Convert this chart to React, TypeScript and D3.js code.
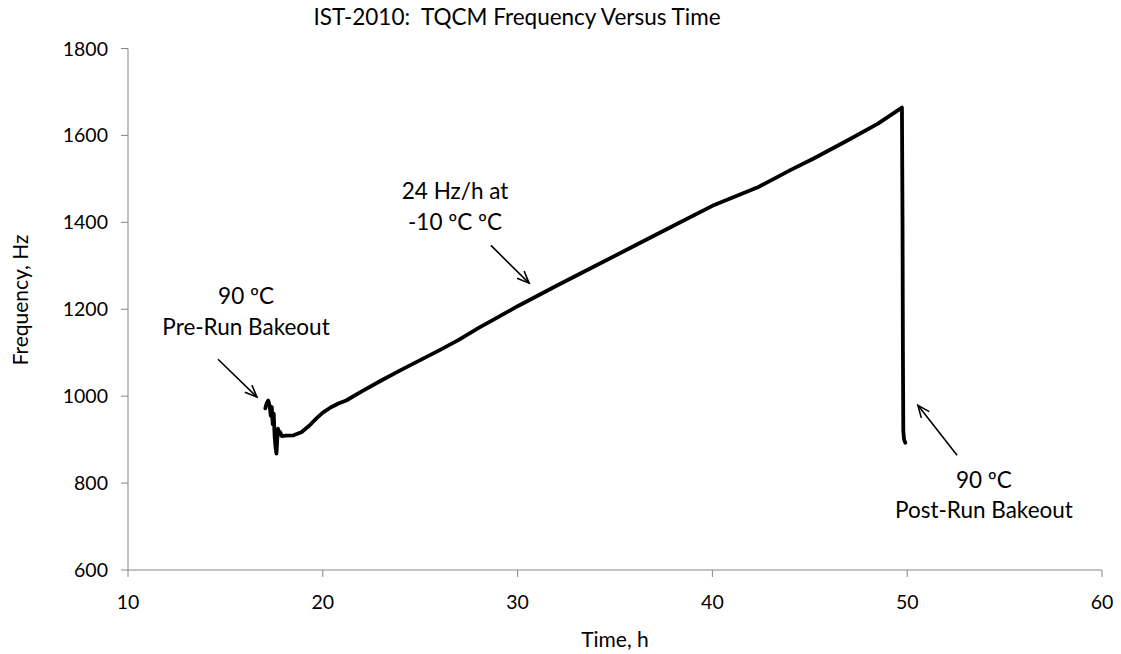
import React from "react";
import * as d3 from "d3";

const timeH: number[] = [
  17.05, 17.12, 17.2, 17.27, 17.33, 17.38, 17.43, 17.48, 17.53, 17.58, 17.62, 17.66, 17.7, 17.75,
  17.8, 17.9, 18.1, 18.5, 18.9, 19.3, 19.7, 20.0, 20.4, 20.8, 21.2, 22.0, 23.0, 24.0,
  25.0, 26.0, 27.0, 28.0, 29.0, 30.0, 32.0, 34.0, 36.0, 38.0, 40.0, 42.3, 44.0, 45.2, 47.0,
  48.5, 49.73, 49.76, 49.78, 49.8, 49.84, 49.9,
];
const freqHz: number[] = [
  972, 984, 990, 978, 955, 975, 935, 960, 905, 880, 868, 900, 925, 912,
  918, 908, 909, 910, 917, 932, 950, 962, 974, 983, 990, 1011, 1036, 1060,
  1083, 1106, 1130, 1157, 1182, 1207, 1254, 1300, 1346, 1392, 1438, 1480, 1520, 1547, 1590,
  1627, 1664, 1400, 1100, 920, 900, 893,
];

const xTicks: number[] = [10, 20, 30, 40, 50, 60];
const yTicks: number[] = [600, 800, 1000, 1200, 1400, 1600, 1800];

const title = "IST-2010:\u00A0 TQCM Frequency Versus Time";
const xTitle = "Time, h";
const yTitle = "Frequency, Hz";

// annotations: text lines anchored at data coords, arrows from -> to in data coords
const annoLabels: { x: number; y: number; lines: string[] }[] = [
  { x: 16.06, y: 1212, lines: ["90 \u00BAC", "Pre-Run Bakeout"] },
  { x: 26.79, y: 1453, lines: ["24 Hz/h at", "-10 \u00BAC \u00BAC"] },
  { x: 53.94, y: 789, lines: ["90 \u00BAC", "Post-Run Bakeout"] },
];
const annoArrows: { x1: number; y1: number; x2: number; y2: number }[] = [
  { x1: 14.62, y1: 1085, x2: 16.62, y2: 998 },
  { x1: 28.63, y1: 1347, x2: 30.59, y2: 1260 },
  { x1: 52.56, y1: 864, x2: 50.55, y2: 979 },
];

const W = 1121;
const H = 654;
const left = 128;
const right = 1102;
const top = 48.5;
const bottom = 570;
const font = "Lato, 'Open Sans', sans-serif";
const axisColor = "#868686";

export default function App() {
  const x = d3.scaleLinear().domain([10, 60]).range([left, right]);
  const y = d3.scaleLinear().domain([600, 1800]).range([bottom, top]);
  const pts: [number, number][] = timeH.map((t, i) => [t, freqHz[i]]);
  const line = d3
    .line<[number, number]>()
    .x((d) => x(d[0]))
    .y((d) => y(d[1]));

  const arrowHead = (x1: number, y1: number, x2: number, y2: number) => {
    const px1 = x(x1), py1 = y(y1), px2 = x(x2), py2 = y(y2);
    const ang = Math.atan2(py2 - py1, px2 - px1);
    const len = 13;
    const spread = 0.4;
    const a = [px2 - len * Math.cos(ang - spread), py2 - len * Math.sin(ang - spread)];
    const b = [px2 - len * Math.cos(ang + spread), py2 - len * Math.sin(ang + spread)];
    return `M${a[0]},${a[1]}L${px2},${py2}L${b[0]},${b[1]}`;
  };

  return (
    <svg
      width={W}
      height={H}
      style={{ position: "absolute", left: 0, top: 0, background: "#fff" }}
      fontFamily={font}
    >
      <rect width={W} height={H} fill="#fff" />
      <text x={517} y={25} textAnchor="middle" fontSize={22.5} fill="#000">
        {title}
      </text>
      {/* axes */}
      <line x1={left} x2={left} y1={top} y2={bottom} stroke={axisColor} strokeWidth={1} />
      <line x1={left} x2={right} y1={bottom} y2={bottom} stroke={axisColor} strokeWidth={1} />
      {yTicks.map((v) => (
        <g key={"y" + v}>
          <line x1={left - 7} x2={left} y1={y(v)} y2={y(v)} stroke={axisColor} />
          <text x={left - 20} y={y(v)} dy="0.36em" textAnchor="end" fontSize={19.5} fill="#000">
            {v}
          </text>
        </g>
      ))}
      {xTicks.map((v) => (
        <g key={"x" + v}>
          <line x1={x(v)} x2={x(v)} y1={bottom} y2={bottom + 7} stroke={axisColor} />
          <text x={x(v)} y={609} textAnchor="middle" fontSize={19.5} fill="#000">
            {v}
          </text>
        </g>
      ))}
      <text x={(left + right) / 2} y={647} textAnchor="middle" fontSize={21} fill="#000">
        {xTitle}
      </text>
      <text
        transform={`translate(28,300) rotate(-90)`}
        textAnchor="middle"
        fontSize={21}
        fill="#000"
      >
        {yTitle}
      </text>
      {/* data */}
      <path
        d={line(pts) || ""}
        fill="none"
        stroke="#000"
        strokeWidth={3.8}
        strokeLinejoin="round"
        strokeLinecap="round"
      />
      {/* annotations */}
      {annoArrows.map((a, i) => (
        <g key={"a" + i} stroke="#000" strokeWidth={1.6} fill="none">
          <line x1={x(a.x1)} y1={y(a.y1)} x2={x(a.x2)} y2={y(a.y2)} />
          <path d={arrowHead(a.x1, a.y1, a.x2, a.y2)} />
        </g>
      ))}
      {annoLabels.map((l, i) => (
        <text key={"l" + i} textAnchor="middle" fontSize={22.5} fill="#000">
          {l.lines.map((s, j) => (
            <tspan key={j} x={x(l.x)} y={y(l.y) + j * 30.5}>
              {s}
            </tspan>
          ))}
        </text>
      ))}
    </svg>
  );
}
